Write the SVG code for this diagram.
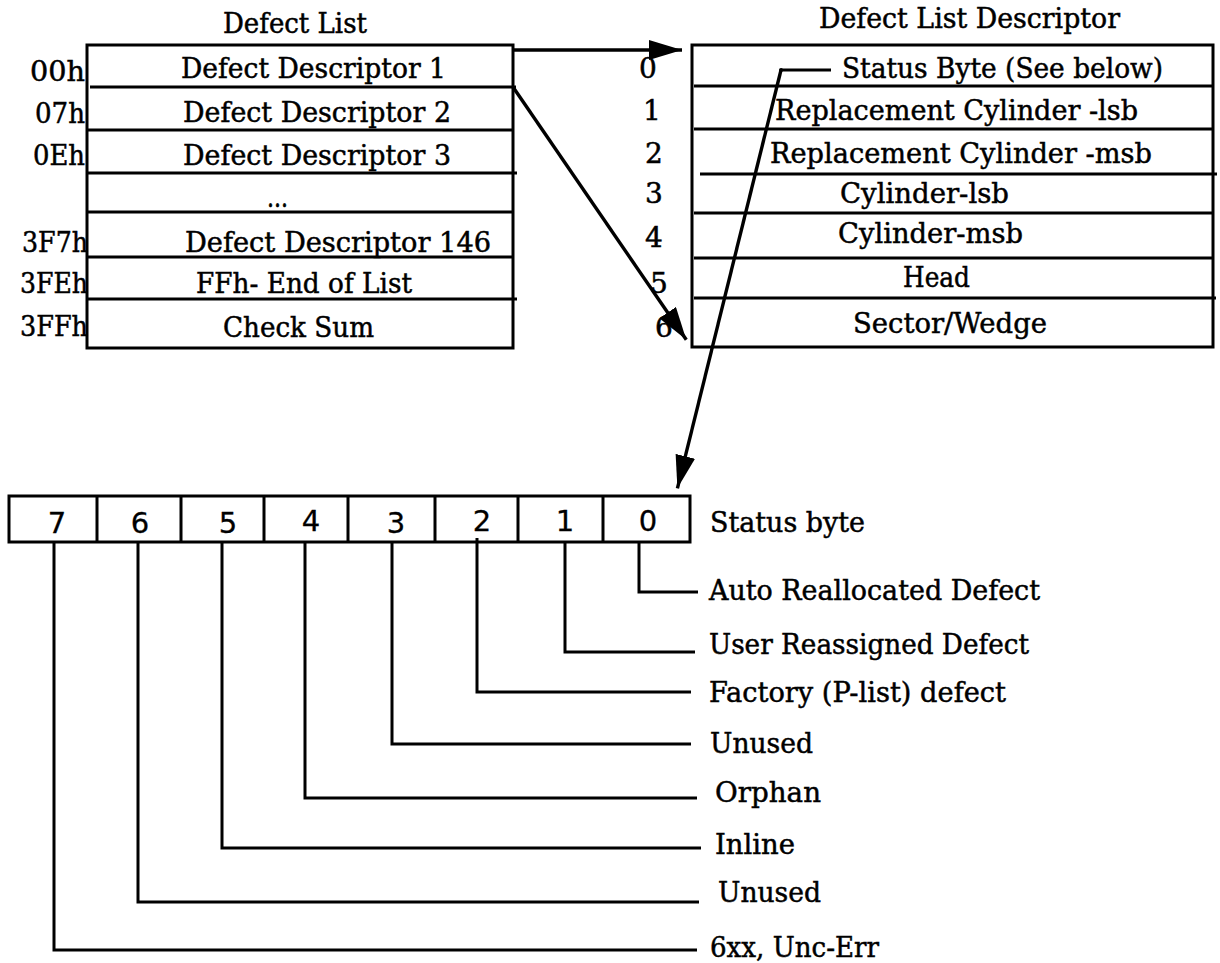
<svg xmlns="http://www.w3.org/2000/svg" width="1220" height="963" viewBox="0 0 1220 963">
<style>
.t{font-family:"DejaVu Serif","Liberation Serif",serif;font-size:28px;fill:#000;stroke:#000;stroke-width:0.5}
.b{font-family:"DejaVu Sans","Liberation Sans",sans-serif;font-size:29px;fill:#000;stroke:#000;stroke-width:0.3}
.box{fill:#fff;stroke:#000;stroke-width:3}
.ln{fill:none;stroke:#000;stroke-width:3}
.ar{fill:none;stroke:#000;stroke-width:3.4}
</style>
<defs>
<marker id="ah" markerUnits="userSpaceOnUse" markerWidth="36" markerHeight="22" refX="33" refY="10" orient="auto">
<path d="M0,0 L33,10 L0,20 Z" fill="#000"/>
</marker>
</defs>
<rect width="1220" height="963" fill="#fff"/>

<g id="defect-list">
<text class="t" x="223" y="33" textLength="144" lengthAdjust="spacingAndGlyphs">Defect List</text>
<rect class="box" x="87" y="45" width="426" height="303"/>
<path class="ln" d="M90,87H516M88,130H514M88,173H517M88,212H514M88,257H514M88,299H517"/>
<text class="t" x="181" y="78" textLength="265" lengthAdjust="spacingAndGlyphs">Defect Descriptor 1</text>
<text class="t" x="183" y="122" textLength="268" lengthAdjust="spacingAndGlyphs">Defect Descriptor 2</text>
<text class="t" x="183" y="165" textLength="268" lengthAdjust="spacingAndGlyphs">Defect Descriptor 3</text>
<text class="t" x="267" y="207" textLength="21" lengthAdjust="spacingAndGlyphs">...</text>
<text class="t" x="185" y="252" textLength="306" lengthAdjust="spacingAndGlyphs">Defect Descriptor 146</text>
<text class="t" x="196" y="293" textLength="216" lengthAdjust="spacingAndGlyphs">FFh- End of List</text>
<text class="t" x="223" y="337" textLength="151" lengthAdjust="spacingAndGlyphs">Check Sum</text>
<g text-anchor="end">
<text class="t" x="85" y="81" textLength="55" lengthAdjust="spacingAndGlyphs">00h</text>
<text class="t" x="85" y="123" textLength="50" lengthAdjust="spacingAndGlyphs">07h</text>
<text class="t" x="85" y="165" textLength="52" lengthAdjust="spacingAndGlyphs">0Eh</text>
<text class="t" x="88" y="252" textLength="66" lengthAdjust="spacingAndGlyphs">3F7h</text>
<text class="t" x="88" y="293" textLength="68" lengthAdjust="spacingAndGlyphs">3FEh</text>
<text class="t" x="88" y="336" textLength="68" lengthAdjust="spacingAndGlyphs">3FFh</text>
</g>
</g>

<g id="descriptor">
<text class="t" x="819" y="28" textLength="301" lengthAdjust="spacingAndGlyphs">Defect List Descriptor</text>
<rect class="box" x="692" y="45" width="521" height="302"/>
<path class="ln" d="M694,86H1213M694,129H1213M700,174H1217M694,213H1213M694,258H1213M694,298H1216"/>
<text class="t" x="842" y="78" textLength="321" lengthAdjust="spacingAndGlyphs">Status Byte (See below)</text>
<text class="t" x="775" y="120" textLength="363" lengthAdjust="spacingAndGlyphs">Replacement Cylinder -lsb</text>
<text class="t" x="770" y="163" textLength="382" lengthAdjust="spacingAndGlyphs">Replacement Cylinder -msb</text>
<text class="t" x="840" y="203" textLength="169" lengthAdjust="spacingAndGlyphs">Cylinder-lsb</text>
<text class="t" x="838" y="243" textLength="185" lengthAdjust="spacingAndGlyphs">Cylinder-msb</text>
<text class="t" x="903" y="287" textLength="67" lengthAdjust="spacingAndGlyphs">Head</text>
<text class="t" x="853" y="333" textLength="194" lengthAdjust="spacingAndGlyphs">Sector/Wedge</text>
<g text-anchor="middle">
<text class="t" x="648" y="78">0</text>
<text class="t" x="652" y="120">1</text>
<text class="t" x="654" y="163">2</text>
<text class="t" x="654" y="203">3</text>
<text class="t" x="654" y="247">4</text>
<text class="t" x="659" y="293">5</text>
<text class="t" x="664" y="337">6</text>
</g>
</g>

<g id="status-byte">
<rect class="box" x="9" y="496" width="681" height="46"/>
<path class="ln" d="M97,496V542M181,496V542M264,496V542M348,496V542M435,496V542M518,496V542M603,496V542"/>
<g text-anchor="middle">
<text class="b" x="57" y="533">7</text>
<text class="b" x="140" y="533">6</text>
<text class="b" x="228" y="533">5</text>
<text class="b" x="311" y="531">4</text>
<text class="b" x="396" y="533">3</text>
<text class="b" x="482" y="531">2</text>
<text class="b" x="565" y="531">1</text>
<text class="b" x="648" y="531">0</text>
</g>
<text class="t" x="710" y="532" textLength="155" lengthAdjust="spacingAndGlyphs">Status byte</text>
</g>

<g id="bit-labels">
<text class="t" x="709" y="600" textLength="331" lengthAdjust="spacingAndGlyphs">Auto Reallocated Defect</text>
<text class="t" x="709" y="654" textLength="320" lengthAdjust="spacingAndGlyphs">User Reassigned Defect</text>
<text class="t" x="709" y="702" textLength="297" lengthAdjust="spacingAndGlyphs">Factory (P-list) defect</text>
<text class="t" x="710" y="753" textLength="103" lengthAdjust="spacingAndGlyphs">Unused</text>
<text class="t" x="715" y="802" textLength="106" lengthAdjust="spacingAndGlyphs">Orphan</text>
<text class="t" x="715" y="854" textLength="80" lengthAdjust="spacingAndGlyphs">Inline</text>
<text class="t" x="718" y="902" textLength="103" lengthAdjust="spacingAndGlyphs">Unused</text>
<text class="t" x="710" y="957" textLength="169" lengthAdjust="spacingAndGlyphs">6xx, Unc-Err</text>
</g>

<g id="connectors">
<path class="ln" d="M639,542V592H698"/>
<path class="ln" d="M565,542V652H695"/>
<path class="ln" d="M477,538V692H691"/>
<path class="ln" d="M392,542V744H691"/>
<path class="ln" d="M305,542V798H697"/>
<path class="ln" d="M222,542V848H701"/>
<path class="ln" d="M138,542V902H699"/>
<path class="ln" d="M54,542V950H697"/>
<path class="ar" d="M513,50H682" marker-end="url(#ah)"/>
<path class="ar" d="M513,87L686.3,339.8" marker-end="url(#ah)"/>
<path class="ln" d="M781,70H831"/>
<circle cx="781" cy="70" r="2" fill="#000"/>
<path class="ar" d="M781,70L677.4,488.3" marker-end="url(#ah)"/>
</g>
</svg>
